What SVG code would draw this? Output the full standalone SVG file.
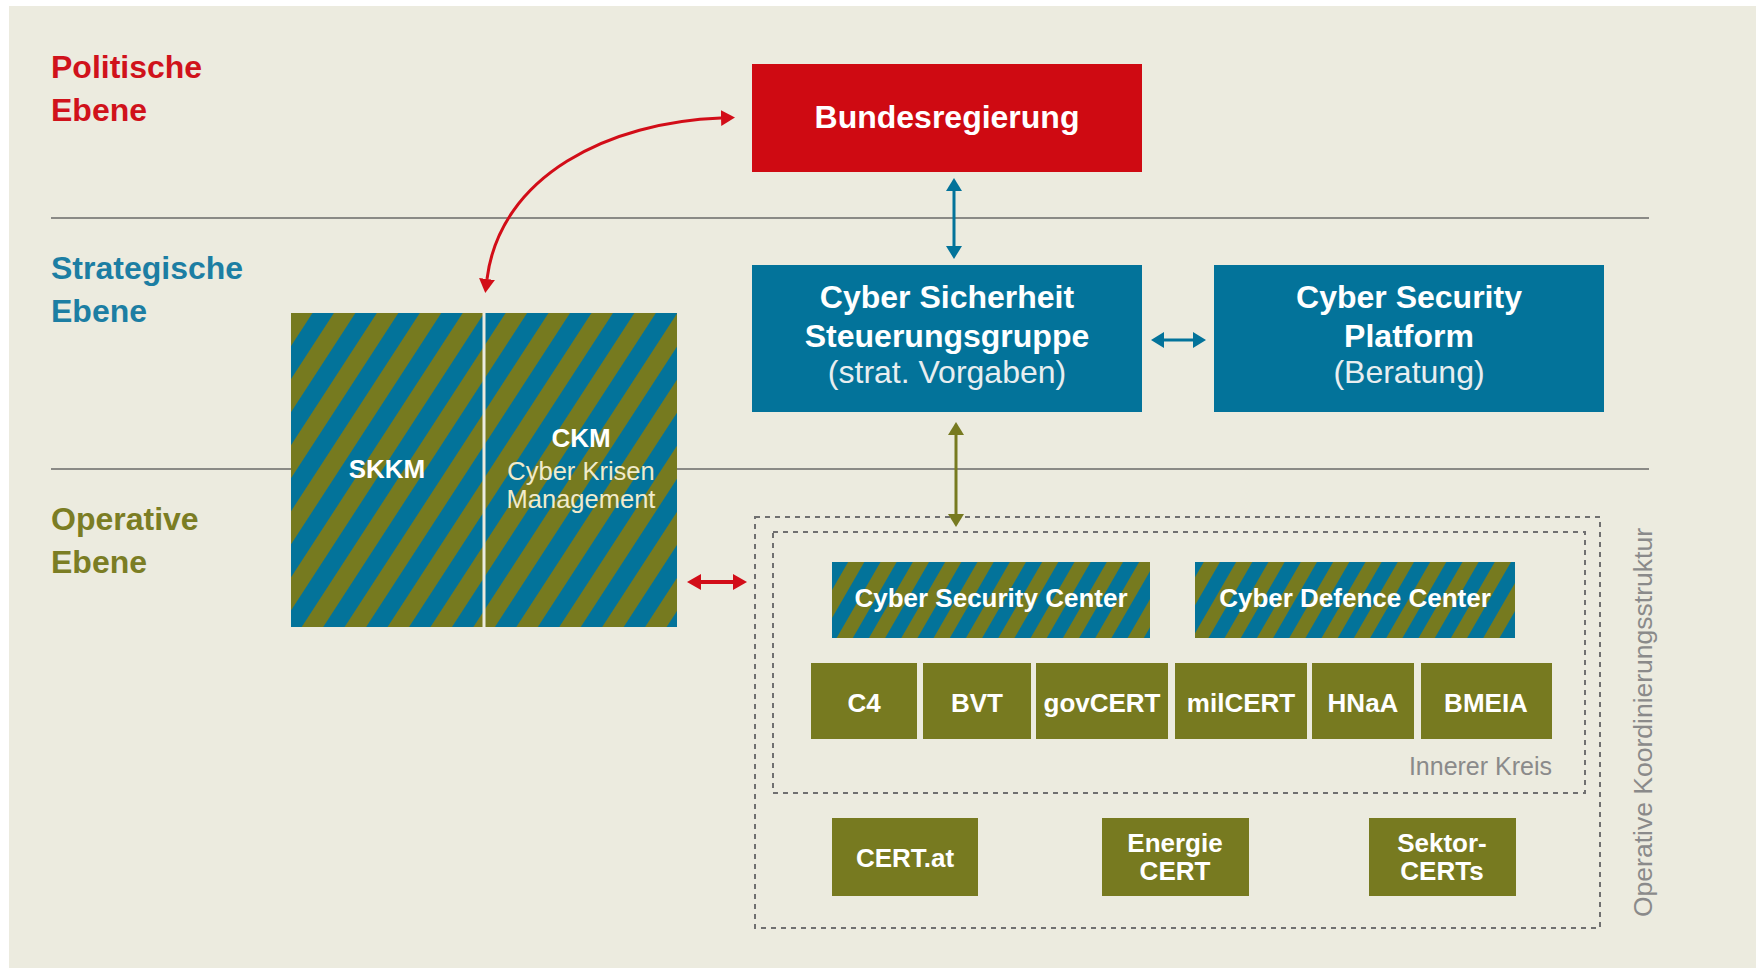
<svg xmlns="http://www.w3.org/2000/svg" width="1756" height="968" viewBox="0 0 1756 968">
<style>
text{font-family:"Liberation Sans",Arial,sans-serif}
.lvl{font-size:32px;font-weight:bold}
.red{fill:#d0121b}.blu{fill:#1c7ea3}.olv{fill:#7b7d24}
.hd{font-size:32px;font-weight:bold;fill:#fff;text-anchor:middle}
.sub{font-size:32px;fill:#e8eef0;text-anchor:middle}
.bx{font-size:26px;font-weight:bold;fill:#fff;text-anchor:middle}
.ck{font-size:25.5px;fill:#f0ebcc;text-anchor:middle}
.gl{stroke:#8a8a86;stroke-width:2}
.dash{fill:none;stroke:#707070;stroke-width:2;stroke-dasharray:5 5}
.ob{fill:#777a20}
.bb{fill:#03739a}
</style>
<defs>
<pattern id="stripeL" patternUnits="userSpaceOnUse" width="36" height="100" patternTransform="translate(291,313) rotate(33)">
<rect x="0" y="0" width="18" height="100" fill="#767a1f"/>
<rect x="18" y="0" width="18" height="100" fill="#03739a"/>
</pattern>
<pattern id="stripeS" patternUnits="userSpaceOnUse" width="28" height="100" patternTransform="translate(832,562) rotate(30)">
<rect x="0" y="0" width="14" height="100" fill="#03739a"/>
<rect x="14" y="0" width="14" height="100" fill="#767a1f"/>
</pattern>
<marker id="ahB" markerUnits="userSpaceOnUse" markerWidth="16" markerHeight="18" refX="0" refY="8" orient="auto-start-reverse" viewBox="0 0 16 16"><path d="M0,0 L13,8 L0,16 Z" fill="#03739a"/></marker>
<marker id="ahO" markerUnits="userSpaceOnUse" markerWidth="16" markerHeight="18" refX="0" refY="8" orient="auto-start-reverse" viewBox="0 0 16 16"><path d="M0,0 L13,8 L0,16 Z" fill="#777a20"/></marker>
<marker id="ahR" markerUnits="userSpaceOnUse" markerWidth="16" markerHeight="18" refX="0" refY="8" orient="auto-start-reverse" viewBox="0 0 16 16"><path d="M0,0 L14,8 L0,16 Z" fill="#d20d18"/></marker>
</defs>
<rect x="9" y="6" width="1747" height="962" fill="#ecebdf"/>
<g id="levels">
<text class="lvl red" x="51" y="78">Politische</text>
<text class="lvl red" x="51" y="121">Ebene</text>
<text class="lvl blu" x="51" y="279">Strategische</text>
<text class="lvl blu" x="51" y="322">Ebene</text>
<text class="lvl olv" x="51" y="530">Operative</text>
<text class="lvl olv" x="51" y="573">Ebene</text>
<line class="gl" x1="51" y1="218" x2="1649" y2="218"/>
<line class="gl" x1="51" y1="469" x2="1649" y2="469"/>
</g>
<g id="okstruktur">
<rect class="dash" x="755" y="517" width="845" height="411"/>
<rect class="dash" x="773" y="532" width="812" height="261"/>
<text x="1552" y="775" font-size="25" fill="#8a8a8a" text-anchor="end">Innerer Kreis</text>
<text x="0" y="0" font-size="26" fill="#8a8a8a" transform="translate(1652,917) rotate(-90)" textLength="389" lengthAdjust="spacingAndGlyphs">Operative Koordinierungsstruktur</text>
</g>
<g id="skkm-ckm">
<rect x="291" y="313" width="386" height="314" fill="url(#stripeL)"/>
<line x1="484" y1="313" x2="484" y2="627" stroke="#ecebdf" stroke-width="3"/>
<text class="bx" x="387" y="478">SKKM</text>
<text class="bx" x="581" y="447">CKM</text>
<text class="ck" x="581" y="480">Cyber Krisen</text>
<text class="ck" x="581" y="508">Management</text>
</g>
<g id="bundesregierung">
<rect x="752" y="64" width="390" height="108" fill="#cf0a12"/>
<text class="hd" x="947" y="128">Bundesregierung</text>
</g>
<g id="steuerungsgruppe">
<rect class="bb" x="752" y="265" width="390" height="147"/>
<text class="hd" x="947" y="308">Cyber Sicherheit</text>
<text class="hd" x="947" y="347">Steuerungsgruppe</text>
<text class="sub" x="947" y="383">(strat. Vorgaben)</text>
</g>
<g id="platform">
<rect class="bb" x="1214" y="265" width="390" height="147"/>
<text class="hd" x="1409" y="308">Cyber Security</text>
<text class="hd" x="1409" y="347">Platform</text>
<text class="sub" x="1409" y="383">(Beratung)</text>
</g>
<g id="csc">
<rect x="832" y="562" width="318" height="76" fill="url(#stripeS)"/>
<text class="bx" x="991" y="607">Cyber Security Center</text>
</g>
<g id="cdc">
<rect x="1195" y="562" width="320" height="76" fill="url(#stripeS)"/>
<text class="bx" x="1355" y="607">Cyber Defence Center</text>
</g>
<g id="c4"><rect class="ob" x="811" y="663" width="106" height="76"/><text class="bx" x="864" y="712">C4</text></g>
<g id="bvt"><rect class="ob" x="923" y="663" width="108" height="76"/><text class="bx" x="977" y="712">BVT</text></g>
<g id="govcert"><rect class="ob" x="1036" y="663" width="132" height="76"/><text class="bx" x="1102" y="712">govCERT</text></g>
<g id="milcert"><rect class="ob" x="1175" y="663" width="132" height="76"/><text class="bx" x="1241" y="712">milCERT</text></g>
<g id="hnaa"><rect class="ob" x="1312" y="663" width="102" height="76"/><text class="bx" x="1363" y="712">HNaA</text></g>
<g id="bmeia"><rect class="ob" x="1421" y="663" width="131" height="76"/><text class="bx" x="1486" y="712">BMEIA</text></g>
<g id="certat"><rect class="ob" x="832" y="818" width="146" height="78"/><text class="bx" x="905" y="867">CERT.at</text></g>
<g id="energiecert"><rect class="ob" x="1102" y="818" width="147" height="78"/><text class="bx" x="1175" y="852">Energie</text><text class="bx" x="1175" y="880">CERT</text></g>
<g id="sektorcerts"><rect class="ob" x="1369" y="818" width="147" height="78"/><text class="bx" x="1442" y="852">Sektor-</text><text class="bx" x="1442" y="880">CERTs</text></g>
<g id="connectors" fill="none">
<line x1="954" y1="191" x2="954" y2="246" stroke="#03739a" stroke-width="3" marker-start="url(#ahB)" marker-end="url(#ahB)"/>
<line x1="1164" y1="340" x2="1193" y2="340" stroke="#03739a" stroke-width="3" marker-start="url(#ahB)" marker-end="url(#ahB)"/>
<line x1="956" y1="435" x2="956" y2="514" stroke="#777a20" stroke-width="3" marker-start="url(#ahO)" marker-end="url(#ahO)"/>
<line x1="701" y1="582" x2="733" y2="582" stroke="#d20d18" stroke-width="4" marker-start="url(#ahR)" marker-end="url(#ahR)"/>
<path d="M 721 118 C 610 122, 500 175, 487 279" stroke="#d20d18" stroke-width="3" marker-start="url(#ahR)" marker-end="url(#ahR)"/>
</g>
</svg>
